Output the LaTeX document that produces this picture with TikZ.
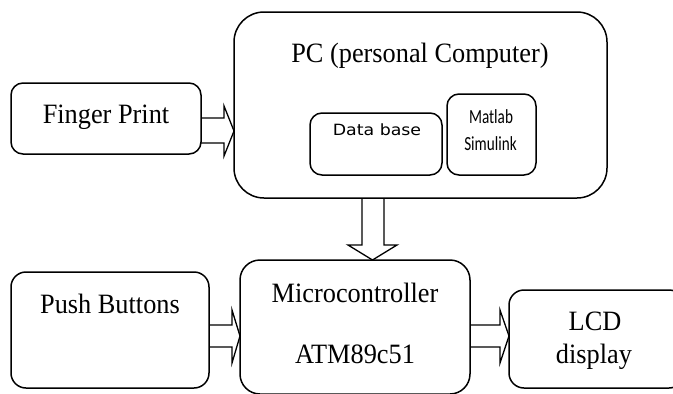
\documentclass[tikz,border=0pt]{standalone}
\usepackage{fontspec}
\setmainfont{Liberation Serif}
\newfontfamily\dbfont{DejaVu Sans}
\newfontfamily\mlfont{Carlito}
\usetikzlibrary{calc}
\newcommand{\bigtxt}[1]{\scalebox{0.94}[1]{\fontsize{28}{32}\selectfont #1}}
\newcommand{\dbtxt}[1]{\scalebox{1.12}[1]{\dbfont\fontsize{15.5}{18}\selectfont #1}}
\newcommand{\mltxt}[1]{\scalebox{0.76}[1]{\mlfont\fontsize{20}{24}\selectfont #1}}
\begin{document}
\begin{tikzpicture}[x=1pt,y=-1pt,
  box/.style={draw, line width=1.5pt, inner sep=0pt, outer sep=0pt},
  hollow/.style={draw, line width=1.3pt, line join=miter},
  lbl/.style={anchor=base, inner sep=0pt}]
\clip (0,0) rectangle (673,394);
\fill[white] (0,0) rectangle (673,394);
% boxes
\node[box, rounded corners=12pt, minimum width=190pt, minimum height=71pt] (fp) at (106,118.5) {};
\node[box, rounded corners=30pt, minimum width=373pt, minimum height=186pt] (pc) at (420.5,105) {};
\node[box, rounded corners=12pt, minimum width=132pt, minimum height=62pt] (db) at (376,144) {};
\node[box, rounded corners=12pt, minimum width=89pt, minimum height=81pt] (ml) at (491.5,134.5) {};
\node[box, rounded corners=15pt, minimum width=198pt, minimum height=116pt] (pb) at (110,330) {};
\node[box, rounded corners=20pt, minimum width=230pt, minimum height=134pt] (mc) at (355,327) {};
\node[box, rounded corners=15pt, minimum width=175pt, minimum height=98pt] (lcd) at (596.5,339) {};
% texts
\node[lbl] (fpt) at (106,123) {\bigtxt{Finger Print}};
\node[lbl] (pct) at (420,62) {\bigtxt{PC (personal Computer)}};
\node[lbl] (dbt) at (377,135) {\dbtxt{Data base}};
\node[lbl] (mlt1) at (491,123) {\mltxt{Matlab}};
\node[lbl] (mlt2) at (490.5,150) {\mltxt{Simulink}};
\node[lbl] (pbt) at (110,313) {\bigtxt{Push Buttons}};
\node[lbl] (mct1) at (355,302) {\bigtxt{Microcontroller}};
\node[lbl] (mct2) at (355,363) {\bigtxt{ATM89c51}};
\node[lbl] (lcdt1) at (595,330) {\bigtxt{LCD}};
\node[lbl] (lcdt2) at (594,363) {\bigtxt{display}};
% hollow arrows
\draw[hollow] (fp.east |- 0,118) -- (224,118) -- (224,106) -- (pc.west |- 0,131)
  -- (224,156) -- (224,143) -- (fp.east |- 0,143);
\draw[hollow] (pc.south -| 362,0) -- (362,245) -- (348,245) -- (mc.north -| 372.5,0)
  -- (397,245) -- (384,245) -- (pc.south -| 384,0);
\draw[hollow] (pb.east |- 0,325) -- (232,325) -- (232,310) -- (mc.west |- 0,336)
  -- (232,363) -- (232,347) -- (pb.east |- 0,347);
\draw[hollow] (mc.east |- 0,325) -- (500,325) -- (500,310) -- (lcd.west |- 0,336)
  -- (500,363) -- (500,347) -- (mc.east |- 0,347);
\end{tikzpicture}
\end{document}
